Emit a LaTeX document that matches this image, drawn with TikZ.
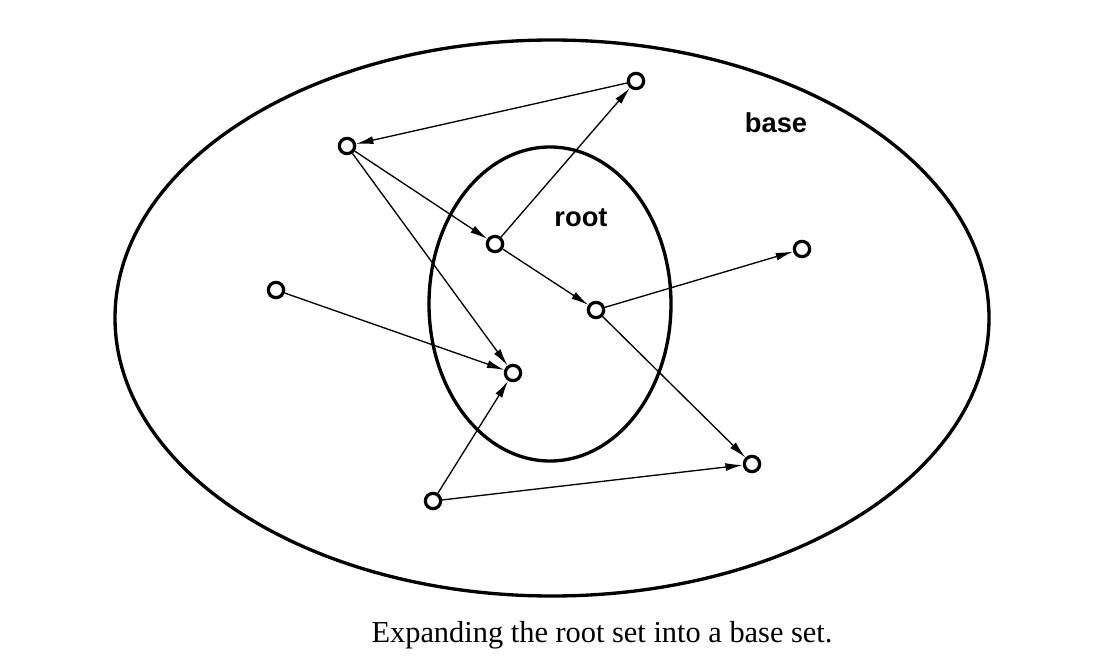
\documentclass[tikz,border=0pt]{standalone}
\usepackage{fontspec}
\setmainfont{Liberation Serif}
\newfontfamily\sansf{Liberation Sans}
\usetikzlibrary{arrows.meta}
\begin{document}
\begin{tikzpicture}[x=0.75pt,y=-0.75pt,
  v/.style={circle,draw,line width=2.4pt,minimum size=11.5pt,inner sep=0pt,fill=white},
  e/.style={line width=1pt,-{Latex[length=13pt,width=6pt]}},
  lab/.style={font=\sansf\bfseries\fontsize{20.5}{24}\selectfont}]
\useasboundingbox (0,0) rectangle (1098,670);
\draw[line width=2.5pt] (552,318) ellipse [x radius=437,y radius=278];
\draw[line width=2.5pt] (550,304) ellipse [x radius=121,y radius=157];
\node[lab] (base) at (776,123) {base};
\node[lab] (root) at (581,218) {root};
\node[v] (A) at (347,146) {};
\node[v] (B) at (636,81) {};
\node[v] (C) at (495,244) {};
\node[v] (D) at (596,310) {};
\node[v] (E) at (802,249) {};
\node[v] (F) at (276,290) {};
\node[v] (G) at (513,373) {};
\node[v] (H) at (752,464) {};
\node[v] (I) at (433,501) {};
\draw[e] (B)--(A);
\draw[e] (A)--(C);
\draw[e] (A)--(G);
\draw[e] (C)--(B);
\draw[e] (C)--(D);
\draw[e] (D)--(E);
\draw[e] (D)--(H);
\draw[e] (F)--(G);
\draw[e] (I)--(G);
\draw[e] (I)--(H);
\node[font=\fontsize{22.8}{26}\selectfont] (cap) at (602,635) {Expanding the root set into a base set.};
\end{tikzpicture}
\end{document}
